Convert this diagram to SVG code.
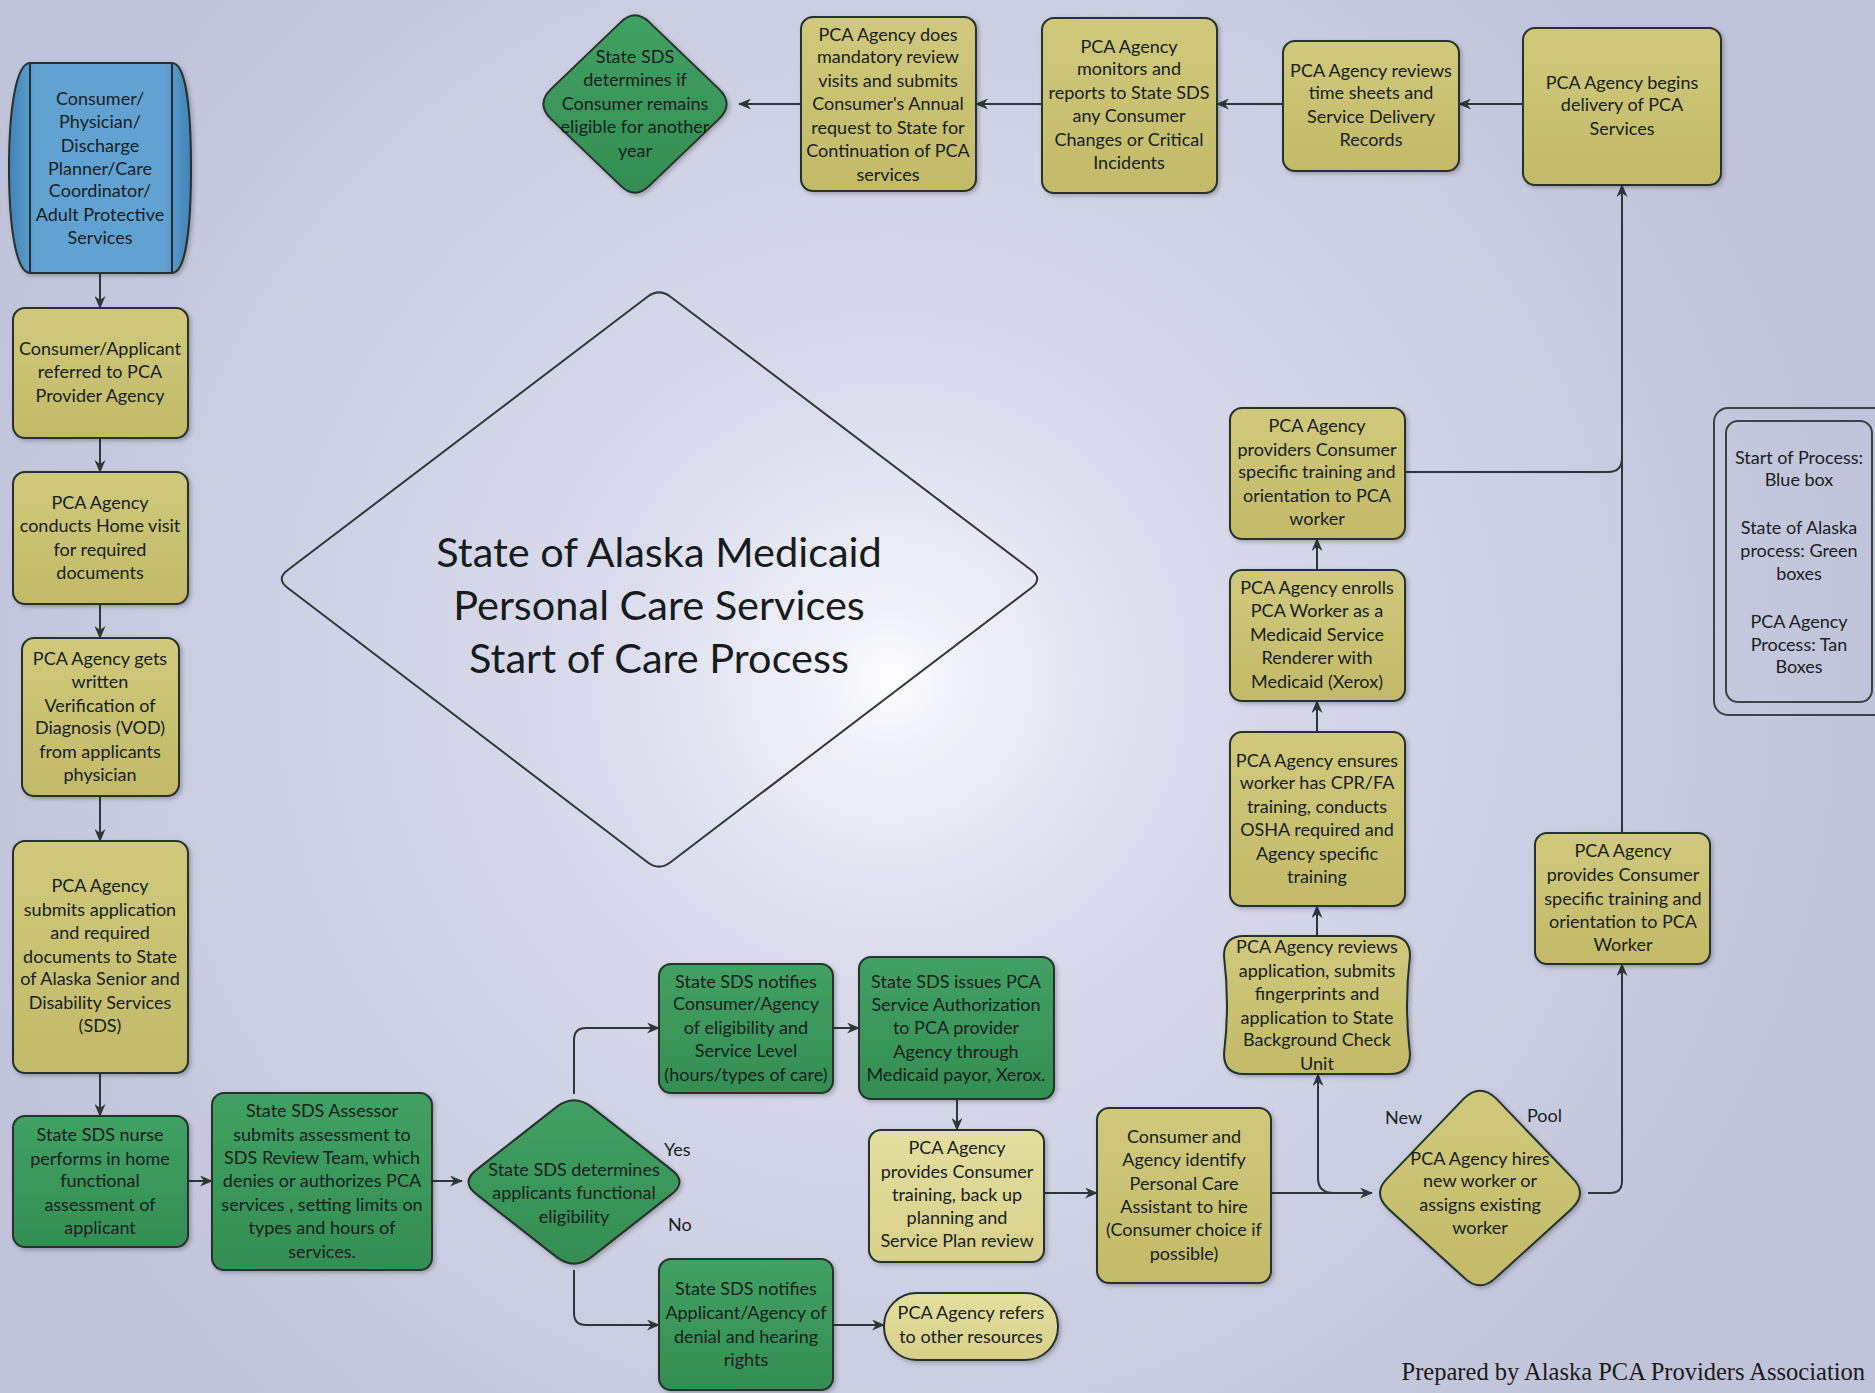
<svg xmlns="http://www.w3.org/2000/svg" width="1875" height="1393" viewBox="0 0 1875 1393">
<defs>
<radialGradient id="bg" gradientUnits="userSpaceOnUse" cx="890" cy="680" r="1000">
<stop offset="0" stop-color="#fdfdfe"/>
<stop offset="0.08" stop-color="#eff0f8"/>
<stop offset="0.3" stop-color="#d9dbec"/>
<stop offset="1" stop-color="#c0c3d9"/>
</radialGradient>
<linearGradient id="tan" x1="0" y1="0" x2="0" y2="1">
<stop offset="0" stop-color="#d0c97c"/>
<stop offset="1" stop-color="#c2ba68"/>
</linearGradient>
<linearGradient id="ltan" x1="0" y1="0" x2="0" y2="1">
<stop offset="0" stop-color="#e4df9f"/>
<stop offset="1" stop-color="#d6d08a"/>
</linearGradient>
<linearGradient id="green" x1="0" y1="0" x2="0" y2="1">
<stop offset="0" stop-color="#42a063"/>
<stop offset="1" stop-color="#348e53"/>
</linearGradient>
<linearGradient id="blue" x1="0" y1="0" x2="1" y2="0">
<stop offset="0" stop-color="#4283b8"/>
<stop offset="0.15" stop-color="#62a2d2"/>
<stop offset="0.85" stop-color="#62a2d2"/>
<stop offset="1" stop-color="#4283b8"/>
</linearGradient>
<filter id="sh" x="-10%" y="-10%" width="120%" height="120%">
<feDropShadow dx="2" dy="2" stdDeviation="2" flood-color="#000" flood-opacity="0.25"/>
</filter>
<marker id="ah" viewBox="0 0 13 11" refX="12" refY="5.5" markerWidth="13" markerHeight="11" markerUnits="userSpaceOnUse" orient="auto">
<path d="M0,0 L13,5.5 L0,11 L4,5.5 Z" fill="#2c3838"/>
</marker>
</defs>
<style>
.t{font-family:Lato,"Liberation Sans",sans-serif;font-size:18px;fill:#18211f;text-anchor:middle}
.lbl{font-family:Lato,"Liberation Sans",sans-serif;font-size:18px;fill:#18211f}
.title{font-family:Lato,"Liberation Sans",sans-serif;font-size:41.5px;fill:#161b1e;text-anchor:middle}
.box{stroke:#25302d;stroke-width:2;filter:url(#sh)}
.tan{fill:url(#tan)}
.ltan{fill:url(#ltan)}
.grn{fill:url(#green)}
.c{fill:none;stroke:#2c3838;stroke-width:2}
.foot{font-family:"Liberation Serif",serif;font-size:24.5px;fill:#1a1a1a;text-anchor:end}
</style>
<rect x="0" y="0" width="1875" height="1393" fill="url(#bg)"/>

<g id="title">
<path d="M647.5,296.7 Q659,288 670.5,296.7 L1031.5,570.3 Q1043,579 1031.5,587.7 L670.5,862.2 Q659,871 647.5,862.2 L287.5,587.7 Q276,579 287.5,570.3 Z" fill="none" stroke="#2e3a3a" stroke-width="2"/>
<text class="title" x="659" y="567">State of Alaska Medicaid</text>
<text class="title" x="659" y="620">Personal Care Services</text>
<text class="title" x="659" y="673">Start of Care Process</text>
</g>

<g id="connectors">
<line class="c" x1="100" y1="273" x2="100" y2="308" marker-end="url(#ah)"/>
<line class="c" x1="100" y1="438" x2="100" y2="472" marker-end="url(#ah)"/>
<line class="c" x1="100" y1="604" x2="100" y2="638" marker-end="url(#ah)"/>
<line class="c" x1="100" y1="796" x2="100" y2="841" marker-end="url(#ah)"/>
<line class="c" x1="100" y1="1073" x2="100" y2="1116" marker-end="url(#ah)"/>
<line class="c" x1="188" y1="1181" x2="212" y2="1181" marker-end="url(#ah)"/>
<line class="c" x1="432" y1="1181" x2="462" y2="1181" marker-end="url(#ah)"/>
<path class="c" d="M574,1094 V1040 Q574,1028 586,1028 H659" marker-end="url(#ah)"/>
<path class="c" d="M574,1270 V1313 Q574,1325 586,1325 H659" marker-end="url(#ah)"/>
<line class="c" x1="833" y1="1028" x2="859" y2="1028" marker-end="url(#ah)"/>
<line class="c" x1="957" y1="1099" x2="957" y2="1130" marker-end="url(#ah)"/>
<line class="c" x1="833" y1="1325" x2="884" y2="1325" marker-end="url(#ah)"/>
<line class="c" x1="1044" y1="1193" x2="1097" y2="1193" marker-end="url(#ah)"/>
<line class="c" x1="1271" y1="1193" x2="1372" y2="1193" marker-end="url(#ah)"/>
<path class="c" d="M1334,1193 Q1318,1193 1318,1178 V1074" marker-end="url(#ah)"/>
<path class="c" d="M1588,1193 H1610 Q1622,1193 1622,1181 V964" marker-end="url(#ah)"/>
<line class="c" x1="1622" y1="833" x2="1622" y2="185" marker-end="url(#ah)"/>
<path class="c" d="M1405,472 H1608 Q1622,472 1622,458"/>
<line class="c" x1="1317" y1="936" x2="1317" y2="906" marker-end="url(#ah)"/>
<line class="c" x1="1317" y1="732" x2="1317" y2="701" marker-end="url(#ah)"/>
<line class="c" x1="1317" y1="570" x2="1317" y2="539" marker-end="url(#ah)"/>
<line class="c" x1="1523" y1="104" x2="1459" y2="104" marker-end="url(#ah)"/>
<line class="c" x1="1283" y1="104" x2="1217" y2="104" marker-end="url(#ah)"/>
<line class="c" x1="1042" y1="104" x2="976" y2="104" marker-end="url(#ah)"/>
<line class="c" x1="801" y1="104" x2="739" y2="104" marker-end="url(#ah)"/>
<text class="lbl" x="664" y="1156">Yes</text>
<text class="lbl" x="668" y="1231">No</text>
<text class="lbl" x="1385" y="1124">New</text>
<text class="lbl" x="1527" y="1122">Pool</text>
</g>

<g id="n_start">
<path class="box" d="M30,63 H172 C186,63 191,110 191,168 C191,226 186,273 172,273 H30 C16,273 9,226 9,168 C9,110 16,63 30,63 Z" fill="url(#blue)"/>
<line x1="30" y1="63" x2="30" y2="273" stroke="#25302d" stroke-width="2"/>
<line x1="172" y1="63" x2="172" y2="273" stroke="#25302d" stroke-width="2"/>
<text class="t"><tspan x="100" y="105">Consumer/</tspan><tspan x="100" y="128">Physician/</tspan><tspan x="100" y="152">Discharge</tspan><tspan x="100" y="175">Planner/Care</tspan><tspan x="100" y="197">Coordinator/</tspan><tspan x="100" y="221">Adult Protective</tspan><tspan x="100" y="244">Services</tspan></text>
</g>

<g id="n_referred">
<rect class="box tan" x="13" y="308" width="175" height="130" rx="12"/>
<text class="t"><tspan x="100" y="355">Consumer/Applicant</tspan><tspan x="100" y="378">referred to PCA</tspan><tspan x="100" y="402">Provider  Agency</tspan></text>
</g>

<g id="n_homevisit">
<rect class="box tan" x="13" y="472" width="175" height="132" rx="12"/>
<text class="t"><tspan x="100" y="509">PCA Agency</tspan><tspan x="100" y="532">conducts Home visit</tspan><tspan x="100" y="556">for required</tspan><tspan x="100" y="579">documents</tspan></text>
</g>

<g id="n_vod">
<rect class="box tan" x="22" y="638" width="157" height="158" rx="12"/>
<text class="t"><tspan x="100" y="665">PCA Agency gets</tspan><tspan x="100" y="688">written</tspan><tspan x="100" y="712">Verification of</tspan><tspan x="100" y="734">Diagnosis (VOD)</tspan><tspan x="100" y="758">from applicants</tspan><tspan x="100" y="781">physician</tspan></text>
</g>

<g id="n_submits">
<rect class="box tan" x="13" y="841" width="175" height="232" rx="12"/>
<text class="t"><tspan x="100" y="892">PCA Agency</tspan><tspan x="100" y="916">submits application</tspan><tspan x="100" y="939">and required</tspan><tspan x="100" y="963">documents  to State</tspan><tspan x="100" y="985">of Alaska Senior and</tspan><tspan x="100" y="1009">Disability Services</tspan><tspan x="100" y="1032">(SDS)</tspan></text>
</g>

<g id="n_nurse">
<rect class="box grn" x="13" y="1116" width="175" height="131" rx="12"/>
<text class="t"><tspan x="100" y="1141">State SDS nurse</tspan><tspan x="100" y="1165">performs in home</tspan><tspan x="100" y="1187">functional</tspan><tspan x="100" y="1211">assessment of</tspan><tspan x="100" y="1234">applicant</tspan></text>
</g>

<g id="n_assessor">
<rect class="box grn" x="212" y="1093" width="220" height="177" rx="12"/>
<text class="t"><tspan x="322" y="1117">State SDS Assessor</tspan><tspan x="322" y="1141">submits assessment to</tspan><tspan x="322" y="1164">SDS Review Team, which</tspan><tspan x="322" y="1187">denies or authorizes PCA</tspan><tspan x="322" y="1211">services , setting limits on</tspan><tspan x="322" y="1234">types and hours of</tspan><tspan x="322" y="1258">services.</tspan></text>
</g>

<g id="n_eligibility">
<path class="box grn" d="M557,1106.6 Q574,1094 591,1106.6 L671,1169.4 Q688,1182 671,1194.6 L591,1257.4 Q574,1270 557,1257.4 L477,1194.6 Q460,1182 477,1169.4 Z"/>
<text class="t"><tspan x="574" y="1176">State SDS determines</tspan><tspan x="574" y="1199">applicants functional</tspan><tspan x="574" y="1223">eligibility</tspan></text>
</g>

<g id="n_notifies">
<rect class="box grn" x="659" y="964" width="174" height="129" rx="12"/>
<text class="t"><tspan x="746" y="988">State SDS notifies</tspan><tspan x="746" y="1010">Consumer/Agency</tspan><tspan x="746" y="1034">of eligibility and</tspan><tspan x="746" y="1057">Service Level</tspan><tspan x="746" y="1081">(hours/types of care)</tspan></text>
</g>

<g id="n_issues">
<rect class="box grn" x="859" y="957" width="195" height="142" rx="12"/>
<text class="t"><tspan x="956" y="988">State SDS issues PCA</tspan><tspan x="956" y="1011">Service Authorization</tspan><tspan x="956" y="1034">to PCA provider</tspan><tspan x="956" y="1058">Agency through</tspan><tspan x="956" y="1081">Medicaid payor, Xerox.</tspan></text>
</g>

<g id="n_training">
<rect class="box ltan" x="869" y="1130" width="175" height="132" rx="12"/>
<text class="t"><tspan x="957" y="1154">PCA Agency</tspan><tspan x="957" y="1178">provides Consumer</tspan><tspan x="957" y="1201">training, back up</tspan><tspan x="957" y="1224">planning and</tspan><tspan x="957" y="1247">Service Plan review</tspan></text>
</g>

<g id="n_denial">
<rect class="box grn" x="659" y="1259" width="174" height="131" rx="12"/>
<text class="t"><tspan x="746" y="1295">State SDS notifies</tspan><tspan x="746" y="1319">Applicant/Agency of</tspan><tspan x="746" y="1343">denial and hearing</tspan><tspan x="746" y="1366">rights</tspan></text>
</g>

<g id="n_refers">
<rect class="box ltan" x="884" y="1293" width="174" height="67" rx="33"/>
<text class="t"><tspan x="971" y="1319">PCA Agency refers</tspan><tspan x="971" y="1343">to other resources</tspan></text>
</g>

<g id="n_identify">
<rect class="box tan" x="1097" y="1108" width="174" height="175" rx="12"/>
<text class="t"><tspan x="1184" y="1143">Consumer and</tspan><tspan x="1184" y="1166">Agency identify</tspan><tspan x="1184" y="1190">Personal Care</tspan><tspan x="1184" y="1213">Assistant to hire</tspan><tspan x="1184" y="1236">(Consumer choice if</tspan><tspan x="1184" y="1260">possible)</tspan></text>
</g>

<g id="n_hires">
<path class="box tan" d="M1464,1103.4 Q1480,1088 1496,1103.4 L1572,1182.6 Q1588,1198 1572,1213.4 L1496,1282.6 Q1480,1298 1464,1282.6 L1388,1213.4 Q1372,1198 1388,1182.6 Z" transform="translate(0,-5)"/>
<text class="t"><tspan x="1480" y="1165">PCA Agency hires</tspan><tspan x="1480" y="1187">new worker or</tspan><tspan x="1480" y="1211">assigns existing</tspan><tspan x="1480" y="1234">worker</tspan></text>
</g>

<g id="n_background">
<path class="box tan" d="M1244,936 H1390 Q1410,936 1410,956 Q1404,1005 1410,1054 Q1410,1074 1390,1074 H1244 Q1224,1074 1224,1054 Q1230,1005 1224,956 Q1224,936 1244,936 Z"/>
<text class="t"><tspan x="1317" y="953">PCA Agency reviews</tspan><tspan x="1317" y="977">application, submits</tspan><tspan x="1317" y="1000">fingerprints and</tspan><tspan x="1317" y="1024">application to State</tspan><tspan x="1317" y="1046">Background Check</tspan><tspan x="1317" y="1070">Unit</tspan></text>
</g>

<g id="n_ensures">
<rect class="box tan" x="1230" y="732" width="175" height="174" rx="12"/>
<text class="t"><tspan x="1317" y="767">PCA Agency ensures</tspan><tspan x="1317" y="789">worker has CPR/FA</tspan><tspan x="1317" y="813">training, conducts</tspan><tspan x="1317" y="836">OSHA required and</tspan><tspan x="1317" y="860">Agency specific</tspan><tspan x="1317" y="883">training</tspan></text>
</g>

<g id="n_enrolls">
<rect class="box tan" x="1230" y="570" width="175" height="131" rx="12"/>
<text class="t"><tspan x="1317" y="594">PCA Agency enrolls</tspan><tspan x="1317" y="617">PCA Worker as a</tspan><tspan x="1317" y="641">Medicaid Service</tspan><tspan x="1317" y="664">Renderer with</tspan><tspan x="1317" y="688">Medicaid (Xerox)</tspan></text>
</g>

<g id="n_orient1">
<rect class="box tan" x="1230" y="408" width="175" height="131" rx="12"/>
<text class="t"><tspan x="1317" y="432">PCA Agency</tspan><tspan x="1317" y="456">providers Consumer</tspan><tspan x="1317" y="478">specific training and</tspan><tspan x="1317" y="502">orientation to PCA</tspan><tspan x="1317" y="525">worker</tspan></text>
</g>

<g id="n_orient2">
<rect class="box tan" x="1535" y="833" width="175" height="131" rx="12"/>
<text class="t"><tspan x="1623" y="857">PCA Agency</tspan><tspan x="1623" y="881">provides Consumer</tspan><tspan x="1623" y="905">specific training and</tspan><tspan x="1623" y="928">orientation to PCA</tspan><tspan x="1623" y="951">Worker</tspan></text>
</g>

<g id="n_begins">
<rect class="box tan" x="1523" y="28" width="198" height="157" rx="12"/>
<text class="t"><tspan x="1622" y="89">PCA Agency begins</tspan><tspan x="1622" y="111">delivery of PCA</tspan><tspan x="1622" y="135">Services</tspan></text>
</g>

<g id="n_timesheets">
<rect class="box tan" x="1283" y="41" width="176" height="130" rx="12"/>
<text class="t"><tspan x="1371" y="77">PCA Agency reviews</tspan><tspan x="1371" y="99">time sheets and</tspan><tspan x="1371" y="123">Service Delivery</tspan><tspan x="1371" y="146">Records</tspan></text>
</g>

<g id="n_monitors">
<rect class="box tan" x="1042" y="18" width="175" height="175" rx="12"/>
<text class="t"><tspan x="1129" y="53">PCA Agency</tspan><tspan x="1129" y="75">monitors and</tspan><tspan x="1129" y="99">reports to State SDS</tspan><tspan x="1129" y="122">any Consumer</tspan><tspan x="1129" y="146">Changes or Critical</tspan><tspan x="1129" y="169">Incidents</tspan></text>
</g>

<g id="n_mandatory">
<rect class="box tan" x="801" y="17" width="175" height="174" rx="12"/>
<text class="t"><tspan x="888" y="41">PCA Agency does</tspan><tspan x="888" y="63">mandatory review</tspan><tspan x="888" y="87">visits and submits</tspan><tspan x="888" y="110">Consumer's Annual</tspan><tspan x="888" y="134">request to State for</tspan><tspan x="888" y="157">Continuation of PCA</tspan><tspan x="888" y="181">services</tspan></text>
</g>

<g id="n_annual">
<path class="box grn" d="M620.3,22.6 Q635,8 649.7,22.6 L719.3,89.4 Q734,104 719.3,118.6 L649.7,185.4 Q635,200 620.3,185.4 L550.7,118.6 Q536,104 550.7,89.4 Z"/>
<text class="t"><tspan x="635" y="63">State SDS</tspan><tspan x="635" y="86">determines if</tspan><tspan x="635" y="110">Consumer remains</tspan><tspan x="635" y="133">eligible for another</tspan><tspan x="635" y="157">year</tspan></text>
</g>

<g id="legend">
<rect x="1714" y="408" width="180" height="307" rx="14" fill="none" stroke="#3a4444" stroke-width="2"/>
<rect x="1726" y="421" width="146" height="281" rx="12" fill="none" stroke="#3a4444" stroke-width="2"/>
<text class="t"><tspan x="1799" y="464">Start of Process:</tspan><tspan x="1799" y="486">Blue box</tspan><tspan x="1799" y="534">State of Alaska</tspan><tspan x="1799" y="557">process: Green</tspan><tspan x="1799" y="580">boxes</tspan><tspan x="1799" y="628">PCA Agency</tspan><tspan x="1799" y="651">Process: Tan</tspan><tspan x="1799" y="673">Boxes</tspan></text>
</g>

<text class="foot" x="1865" y="1380">Prepared by Alaska PCA Providers Association</text>
</svg>
